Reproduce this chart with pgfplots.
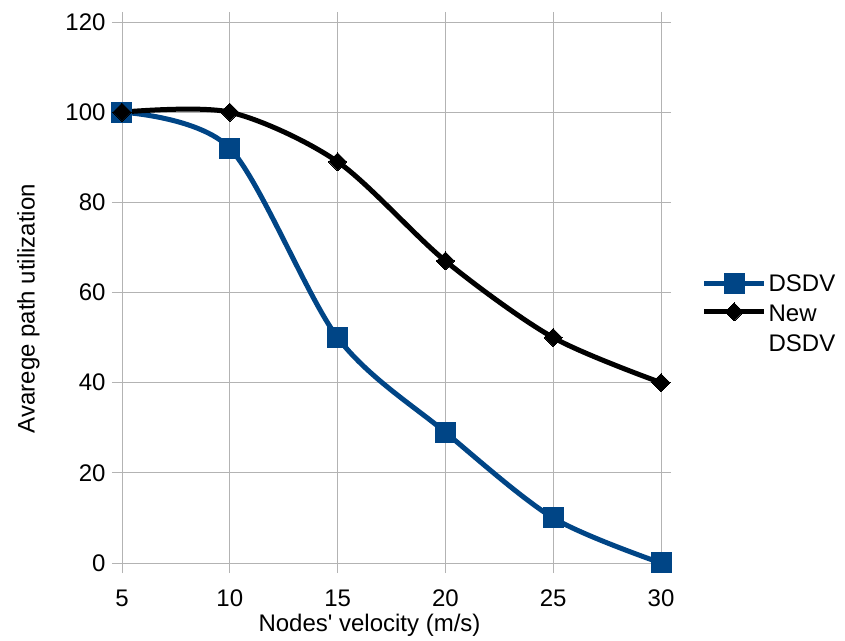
\documentclass[border=0pt]{standalone}
\usepackage{pgfplots}
\pgfplotsset{compat=1.18}
\usepackage{fontspec}
\setmainfont{Liberation Sans}
\definecolor{dsdvblue}{HTML}{004586}
\definecolor{gridgray}{HTML}{B3B3B3}
\begin{document}
\begin{tikzpicture}[x=1pt,y=1pt]
\path (-122pt,-77pt) rectangle (723pt,563pt);
\begin{axis}[
  at={(0pt,0pt)}, anchor=origin,
  scale only axis, width=539pt, height=541pt,
  xmin=5, xmax=30, ymin=0, ymax=120,
  xtick={5,10,...,30}, ytick={0,20,...,120},
  grid=major, grid style={draw=gridgray, line width=0.8pt},
  axis line style={draw=gridgray, line width=0.8pt},
  tick style={draw=gridgray, line width=0.8pt},
  tick align=outside, major tick length=10pt,
  /pgf/number format/assume math mode=true,
  ticklabel style={font=\fontsize{24}{28}\selectfont, text=black},
  xticklabel style={yshift=-13pt},
  yticklabel style={xshift=-3pt},
  xlabel={Nodes\textquotesingle{} velocity (m/s)}, ylabel={Avarege path utilization},
  label style={font=\fontsize{24}{28}\selectfont},
  xlabel style={yshift=-1pt, xshift=-22pt},
  ylabel style={yshift=19pt, xshift=-16pt},
  legend style={at={(1.075,0.537)}, anchor=north west, draw=none, fill=none,
    font=\fontsize{24}{29}\selectfont, row sep=4pt, inner sep=0pt},
  legend cell align=left,
  legend image code/.code={
    \draw[#1, mark repeat=2, mark phase=2] plot coordinates {(0pt,0pt) (30pt,0pt) (60pt,0pt)};
  },
  clip=false,
]
\addplot[color=dsdvblue, line width=5pt, smooth, mark=square*, mark size=10pt, mark options={solid, line width=0pt}]
  coordinates {(5,100) (10,92) (15,50) (20,29) (25,10) (30,0)};
\addlegendentry{DSDV}
\addplot[color=black, line width=5pt, smooth, mark=square*, mark size=6.4pt, mark options={solid, line width=0pt, rotate=45}]
  coordinates {(5,100) (10,100) (15,89) (20,67) (25,50) (30,40)};
\addlegendentry{\begin{tabular}[t]{@{}l@{}}New\\[1pt]DSDV\end{tabular}}
\end{axis}
\end{tikzpicture}
\end{document}
